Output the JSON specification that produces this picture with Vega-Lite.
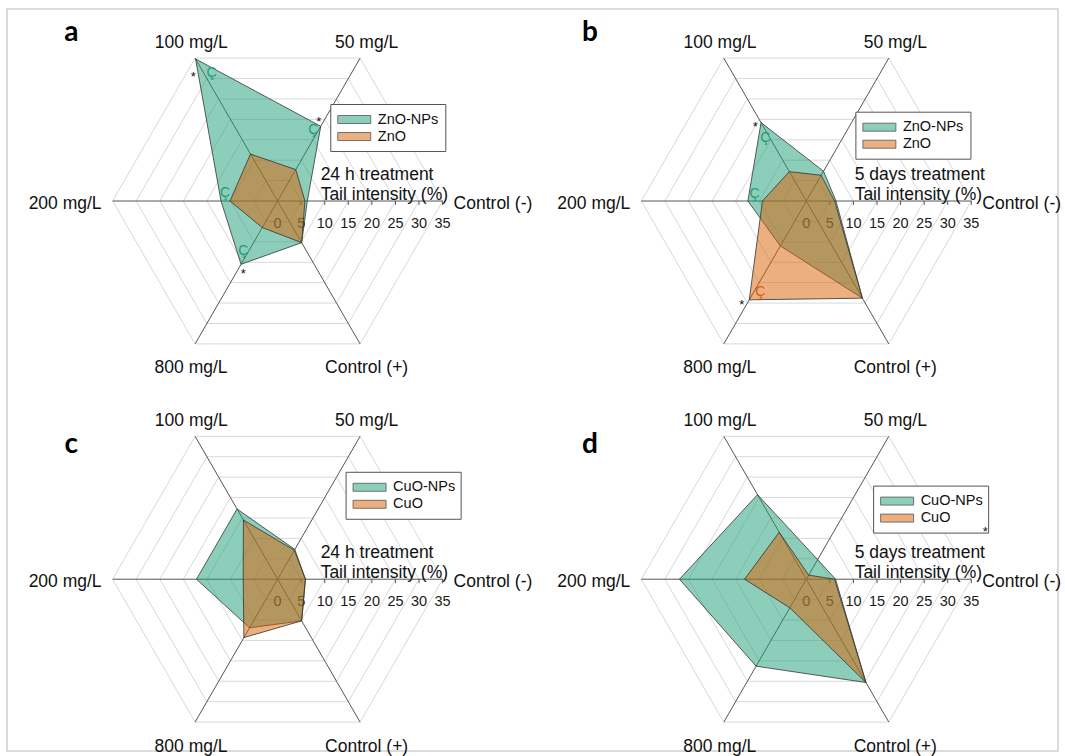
{
  "$schema": "https://vega.github.io/schema/vega-lite/v6.json",
  "width": 1051,
  "height": 742,
  "padding": {"left": 7, "top": 9, "right": 7, "bottom": 5},
  "autosize": {"type": "none"},
  "background": "white",
  "config": {"view": {"stroke": "#cfcfcf", "strokeWidth": 1.5}, "font": "Liberation Sans", "text": {"font": "Liberation Sans"}},
  "datasets": {
    "axes": [
      {"axis": "Control (-)", "angle": 0, "idx": 0},
      {"axis": "50 mg/L", "angle": 60, "idx": 1},
      {"axis": "100 mg/L", "angle": 120, "idx": 2},
      {"axis": "200 mg/L", "angle": 180, "idx": 3},
      {"axis": "800 mg/L", "angle": 240, "idx": 4},
      {"axis": "Control (+)", "angle": 300, "idx": 5}
    ],
    "panels": [
      {"panel": "a", "col": 0, "row": 0, "time": "24 h treatment"},
      {"panel": "b", "col": 1, "row": 0, "time": "5 days treatment"},
      {"panel": "c", "col": 0, "row": 1, "time": "24 h treatment"},
      {"panel": "d", "col": 1, "row": 1, "time": "5 days treatment"}
    ],
    "grid": [
      {"ring": [5, 10, 15, 20, 25, 30, 35], "axis": ["Control (-)", "50 mg/L", "100 mg/L", "200 mg/L", "800 mg/L", "Control (+)"], "panel": ["a", "b", "c", "d"]}
    ],
    "ticks": [
      {"ring": [0, 5, 10, 15, 20, 25, 30, 35], "panel": ["a", "b", "c", "d"]}
    ],
    "spokes": [
      {"axis": ["Control (-)", "50 mg/L", "100 mg/L", "200 mg/L", "800 mg/L", "Control (+)"], "panel": ["a", "b", "c", "d"]}
    ],
    "points": [
      {"panel": "a", "series": "ZnO-NPs", "axis": "Control (-)", "value": 6.3},
      {"panel": "a", "series": "ZnO-NPs", "axis": "50 mg/L", "value": 18.3},
      {"panel": "a", "series": "ZnO-NPs", "axis": "100 mg/L", "value": 34.8},
      {"panel": "a", "series": "ZnO-NPs", "axis": "200 mg/L", "value": 12.0},
      {"panel": "a", "series": "ZnO-NPs", "axis": "800 mg/L", "value": 15.5},
      {"panel": "a", "series": "ZnO-NPs", "axis": "Control (+)", "value": 10.2},
      {"panel": "a", "series": "ZnO", "axis": "Control (-)", "value": 5.8},
      {"panel": "a", "series": "ZnO", "axis": "50 mg/L", "value": 7.7},
      {"panel": "a", "series": "ZnO", "axis": "100 mg/L", "value": 11.5},
      {"panel": "a", "series": "ZnO", "axis": "200 mg/L", "value": 10.1},
      {"panel": "a", "series": "ZnO", "axis": "800 mg/L", "value": 6.5},
      {"panel": "a", "series": "ZnO", "axis": "Control (+)", "value": 10.2},
      {"panel": "b", "series": "ZnO-NPs", "axis": "Control (-)", "value": 6.3},
      {"panel": "b", "series": "ZnO-NPs", "axis": "50 mg/L", "value": 7.3},
      {"panel": "b", "series": "ZnO-NPs", "axis": "100 mg/L", "value": 19.2},
      {"panel": "b", "series": "ZnO-NPs", "axis": "200 mg/L", "value": 12.4},
      {"panel": "b", "series": "ZnO-NPs", "axis": "800 mg/L", "value": 11.0},
      {"panel": "b", "series": "ZnO-NPs", "axis": "Control (+)", "value": 23.8},
      {"panel": "b", "series": "ZnO", "axis": "Control (-)", "value": 6.0},
      {"panel": "b", "series": "ZnO", "axis": "50 mg/L", "value": 6.3},
      {"panel": "b", "series": "ZnO", "axis": "100 mg/L", "value": 7.2},
      {"panel": "b", "series": "ZnO", "axis": "200 mg/L", "value": 9.3},
      {"panel": "b", "series": "ZnO", "axis": "800 mg/L", "value": 24.2},
      {"panel": "b", "series": "ZnO", "axis": "Control (+)", "value": 23.8},
      {"panel": "c", "series": "CuO-NPs", "axis": "Control (-)", "value": 5.9},
      {"panel": "c", "series": "CuO-NPs", "axis": "50 mg/L", "value": 7.3},
      {"panel": "c", "series": "CuO-NPs", "axis": "100 mg/L", "value": 17.2},
      {"panel": "c", "series": "CuO-NPs", "axis": "200 mg/L", "value": 17.2},
      {"panel": "c", "series": "CuO-NPs", "axis": "800 mg/L", "value": 11.9},
      {"panel": "c", "series": "CuO-NPs", "axis": "Control (+)", "value": 10.2},
      {"panel": "c", "series": "CuO", "axis": "Control (-)", "value": 5.9},
      {"panel": "c", "series": "CuO", "axis": "50 mg/L", "value": 7.1},
      {"panel": "c", "series": "CuO", "axis": "100 mg/L", "value": 14.5},
      {"panel": "c", "series": "CuO", "axis": "200 mg/L", "value": 7.3},
      {"panel": "c", "series": "CuO", "axis": "800 mg/L", "value": 14.3},
      {"panel": "c", "series": "CuO", "axis": "Control (+)", "value": 10.2},
      {"panel": "d", "series": "CuO-NPs", "axis": "Control (-)", "value": 6.2},
      {"panel": "d", "series": "CuO-NPs", "axis": "50 mg/L", "value": 4.8},
      {"panel": "d", "series": "CuO-NPs", "axis": "100 mg/L", "value": 20.7},
      {"panel": "d", "series": "CuO-NPs", "axis": "200 mg/L", "value": 26.9},
      {"panel": "d", "series": "CuO-NPs", "axis": "800 mg/L", "value": 21.3},
      {"panel": "d", "series": "CuO-NPs", "axis": "Control (+)", "value": 25.3},
      {"panel": "d", "series": "CuO", "axis": "Control (-)", "value": 6.0},
      {"panel": "d", "series": "CuO", "axis": "50 mg/L", "value": 1.0},
      {"panel": "d", "series": "CuO", "axis": "100 mg/L", "value": 11.5},
      {"panel": "d", "series": "CuO", "axis": "200 mg/L", "value": 13.1},
      {"panel": "d", "series": "CuO", "axis": "800 mg/L", "value": 7.0},
      {"panel": "d", "series": "CuO", "axis": "Control (+)", "value": 25.3}
    ],
    "notes": [
      {"panel": "a", "series": "ZnO-NPs", "sym": "*", "r": 32.46, "angle": 123.43},
      {"panel": "a", "series": "ZnO-NPs", "sym": "Ç", "r": 30.61, "angle": 117.22},
      {"panel": "a", "series": "ZnO-NPs", "sym": "*", "r": 19.7, "angle": 63.6},
      {"panel": "a", "series": "ZnO-NPs", "sym": "Ç", "r": 16.8, "angle": 63.2},
      {"panel": "a", "series": "ZnO-NPs", "sym": "Ç", "r": 11.30, "angle": 171.04},
      {"panel": "a", "series": "ZnO-NPs", "sym": "Ç", "r": 12.87, "angle": 235.54},
      {"panel": "a", "series": "ZnO-NPs", "sym": "*", "r": 16.40, "angle": 243.66},
      {"panel": "b", "series": "ZnO-NPs", "sym": "*", "r": 19.77, "angle": 123.18},
      {"panel": "b", "series": "ZnO-NPs", "sym": "Ç", "r": 15.89, "angle": 123.19},
      {"panel": "b", "series": "ZnO-NPs", "sym": "Ç", "r": 11.07, "angle": 172.32},
      {"panel": "b", "series": "ZnO", "sym": "Ç", "r": 21.69, "angle": 243.26},
      {"panel": "b", "series": "ZnO", "sym": "*", "r": 25.18, "angle": 237.14},
      {"panel": "d", "series": "CuO", "sym": "*", "r": 39.50, "angle": 16.02}
    ]
  },
  "encoding": {
    "x": {"field": "px", "type": "quantitative", "scale": {"domain": [-57.40, 165.54], "nice": false, "zero": false}, "axis": null},
    "y": {"field": "py", "type": "quantitative", "scale": {"domain": [-116.66, 40.73], "nice": false, "zero": false}, "axis": null}
  },
  "layer": [
    {
      "data": {"name": "grid"},
      "transform": [
        {"flatten": ["ring"]},
        {"flatten": ["axis"]},
        {"flatten": ["panel"]},
        {"lookup": "axis", "from": {"data": {"name": "axes"}, "key": "axis", "fields": ["angle", "idx"]}},
        {"lookup": "panel", "from": {"data": {"name": "panels"}, "key": "panel", "fields": ["col", "row"]}},
        {"calculate": "datum.col*112.15 + datum.ring*cos(datum.angle*PI/180)", "as": "px"},
        {"calculate": "-datum.row*80.22 + datum.ring*sin(datum.angle*PI/180)", "as": "py"}
      ],
      "mark": {"type": "line", "interpolate": "linear-closed", "stroke": "#d9d9d9", "strokeWidth": 1},
      "encoding": {
        "order": {"field": "idx", "type": "quantitative"},
        "detail": [{"field": "panel"}, {"field": "ring"}]
      }
    },
    {
      "data": {"name": "ticks"},
      "transform": [
        {"flatten": ["ring"]},
        {"flatten": ["panel"]},
        {"lookup": "panel", "from": {"data": {"name": "panels"}, "key": "panel", "fields": ["col", "row"]}},
        {"calculate": "datum.col*112.15 + datum.ring", "as": "px"},
        {"calculate": "-datum.row*80.22", "as": "py"},
        {"calculate": "datum.py - 0.85", "as": "qy"}
      ],
      "layer": [
        {
          "transform": [{"filter": "datum.ring > 0"}],
          "mark": {"type": "rule", "stroke": "#595959", "strokeWidth": 1},
          "encoding": {"y2": {"field": "qy"}}
        },
        {
          "mark": {"type": "text", "fontSize": 14.5, "baseline": "alphabetic", "align": "center", "dy": 27, "color": "#1a1a1a"},
          "encoding": {"text": {"field": "ring", "type": "quantitative"}}
        }
      ]
    },
    {
      "data": {"name": "spokes"},
      "transform": [
        {"flatten": ["axis"]},
        {"flatten": ["panel"]},
        {"lookup": "axis", "from": {"data": {"name": "axes"}, "key": "axis", "fields": ["angle", "idx"]}},
        {"lookup": "panel", "from": {"data": {"name": "panels"}, "key": "panel", "fields": ["col", "row"]}},
        {"calculate": "datum.col*112.15", "as": "qx"},
        {"calculate": "-datum.row*80.22", "as": "qy"},
        {"calculate": "datum.qx + 35*cos(datum.angle*PI/180)", "as": "px"},
        {"calculate": "datum.qy + 35*sin(datum.angle*PI/180)", "as": "py"}
      ],
      "layer": [
        {
          "mark": {"type": "rule", "stroke": "#555555", "strokeWidth": 1},
          "encoding": {"x2": {"field": "qx"}, "y2": {"field": "qy"}}
        },
        {
          "transform": [
            {"filter": "datum.angle == 60 || datum.angle == 120"},
            {"calculate": "datum.px + (datum.angle == 60 ? 1.38 : -0.8)", "as": "px"}
          ],
          "mark": {"type": "text", "fontSize": 17.5, "baseline": "alphabetic", "align": "center", "dy": -10, "color": "#111111"},
          "encoding": {"text": {"field": "axis"}}
        },
        {
          "transform": [
            {"filter": "datum.angle == 240 || datum.angle == 300"},
            {"calculate": "datum.px + (datum.angle == 300 ? 1.38 : -0.85)", "as": "px"}
          ],
          "mark": {"type": "text", "fontSize": 17.5, "baseline": "alphabetic", "align": "center", "dy": 29.5, "color": "#111111"},
          "encoding": {"text": {"field": "axis"}}
        },
        {
          "transform": [{"filter": "datum.angle == 180"}],
          "mark": {"type": "text", "fontSize": 17.5, "baseline": "alphabetic", "align": "right", "dx": -11, "dy": 8, "color": "#111111"},
          "encoding": {"text": {"field": "axis"}}
        },
        {
          "transform": [{"filter": "datum.angle == 0"}],
          "mark": {"type": "text", "fontSize": 17.5, "baseline": "alphabetic", "align": "left", "dx": 11, "dy": 8, "color": "#111111"},
          "encoding": {"text": {"field": "axis"}}
        }
      ]
    },
    {
      "data": {"name": "points"},
      "transform": [
        {"lookup": "axis", "from": {"data": {"name": "axes"}, "key": "axis", "fields": ["angle", "idx"]}},
        {"lookup": "panel", "from": {"data": {"name": "panels"}, "key": "panel", "fields": ["col", "row"]}},
        {"calculate": "datum.col*112.15 + datum.value*cos(datum.angle*PI/180)", "as": "px"},
        {"calculate": "-datum.row*80.22 + datum.value*sin(datum.angle*PI/180)", "as": "py"}
      ],
      "layer": [
        {
          "transform": [{"filter": "indexof(datum.series, 'NPs') >= 0"}],
          "mark": {"type": "line", "interpolate": "linear-closed", "fill": "#1b9e77", "fillOpacity": 0.5, "stroke": "#333333", "strokeWidth": 0.8},
          "encoding": {"order": {"field": "idx", "type": "quantitative"}, "detail": {"field": "panel"}}
        },
        {
          "transform": [{"filter": "indexof(datum.series, 'NPs') < 0"}],
          "mark": {"type": "line", "interpolate": "linear-closed", "fill": "#d95f02", "fillOpacity": 0.5, "stroke": "#333333", "strokeWidth": 0.8},
          "encoding": {"order": {"field": "idx", "type": "quantitative"}, "detail": {"field": "panel"}}
        }
      ]
    },
    {
      "data": {"name": "panels"},
      "transform": [
        {"calculate": "datum.col*112.15", "as": "cx"},
        {"calculate": "-datum.row*80.22", "as": "cy"}
      ],
      "layer": [
        {
          "transform": [
            {"calculate": "datum.cx + (datum.col == 0 ? 9.13 : 10.25)", "as": "px"},
            {"calculate": "datum.cy", "as": "py"}
          ],
          "mark": {"type": "text", "fontSize": 17.5, "baseline": "alphabetic", "align": "left", "dy": -21.5, "color": "#111111"},
          "encoding": {"text": {"field": "time"}}
        },
        {
          "transform": [
            {"calculate": "datum.cx + (datum.col == 0 ? 9.13 : 10.25)", "as": "px"},
            {"calculate": "datum.cy", "as": "py"}
          ],
          "mark": {"type": "text", "fontSize": 17.5, "baseline": "alphabetic", "align": "left", "dy": -1.5, "color": "#111111"},
          "encoding": {"text": {"value": "Tail intensity (%)"}}
        },
        {
          "transform": [
            {"calculate": "datum.panel == 'a' ? 11.28 : datum.panel == 'b' ? 10.52 : datum.panel == 'c' ? 14.53 : 14.28", "as": "lgx"},
            {"calculate": "datum.panel == 'a' ? 20.47 : datum.panel == 'b' ? 18.84 : datum.panel == 'c' ? 22.68 : 19.75", "as": "lgy"},
            {"calculate": "datum.cx + datum.lgx", "as": "px"},
            {"calculate": "datum.px + 24.4", "as": "qx"},
            {"calculate": "datum.cy + datum.lgy", "as": "py"},
            {"calculate": "datum.py - 9.97", "as": "qy"}
          ],
          "mark": {"type": "rect", "fill": "white", "stroke": "#555555", "strokeWidth": 1},
          "encoding": {"x2": {"field": "qx"}, "y2": {"field": "qy"}}
        },
        {
          "transform": [
            {"calculate": "datum.cx + (datum.col == 0 ? -43.76 : -45.92)", "as": "px"},
            {"calculate": "datum.cy + (datum.row == 0 ? 33.84 : 26.77)", "as": "py"}
          ],
          "mark": {"type": "text", "font": "Lato", "fontWeight": "bold", "fontSize": 28, "baseline": "alphabetic", "align": "center", "color": "#000000"},
          "encoding": {"text": {"field": "panel"}}
        }
      ]
    },
    {
      "data": {"name": "points"},
      "transform": [
        {"filter": "datum.axis == 'Control (-)'"},
        {"lookup": "panel", "from": {"data": {"name": "panels"}, "key": "panel", "fields": ["col", "row"]}},
        {"calculate": "datum.panel == 'a' ? 11.28 : datum.panel == 'b' ? 10.52 : datum.panel == 'c' ? 14.53 : 14.28", "as": "lgx"},
        {"calculate": "datum.panel == 'a' ? 20.47 : datum.panel == 'b' ? 18.84 : datum.panel == 'c' ? 22.68 : 19.75", "as": "lgy"},
        {"calculate": "-datum.row*80.22 + datum.lgy - (indexof(datum.series, 'NPs') >= 0 ? 3.18 : 6.79)", "as": "yc"}
      ],
      "layer": [
        {
          "transform": [
            {"calculate": "datum.col*112.15 + datum.lgx + 1.48", "as": "px"},
            {"calculate": "datum.px + 7.0", "as": "qx"},
            {"calculate": "datum.yc + 0.85", "as": "py"},
            {"calculate": "datum.yc - 0.85", "as": "qy"}
          ],
          "mark": {"type": "rect", "fillOpacity": 0.5, "stroke": "#555555", "strokeWidth": 0.8},
          "encoding": {
            "x2": {"field": "qx"},
            "y2": {"field": "qy"},
            "color": {"field": "series", "type": "nominal", "scale": {"domain": ["ZnO-NPs", "ZnO", "CuO-NPs", "CuO"], "range": ["#1b9e77", "#d95f02", "#1b9e77", "#d95f02"]}, "legend": null}
          }
        },
        {
          "transform": [
            {"calculate": "datum.col*112.15 + datum.lgx + 9.97", "as": "px"},
            {"calculate": "datum.yc", "as": "py"}
          ],
          "mark": {"type": "text", "fontSize": 14.5, "baseline": "middle", "align": "left", "color": "#111111"},
          "encoding": {"text": {"field": "series"}}
        }
      ]
    },
    {
      "data": {"name": "notes"},
      "transform": [
        {"lookup": "panel", "from": {"data": {"name": "panels"}, "key": "panel", "fields": ["col", "row"]}},
        {"calculate": "datum.col*112.15 + datum.r*cos(datum.angle*PI/180)", "as": "px"},
        {"calculate": "-datum.row*80.22 + datum.r*sin(datum.angle*PI/180)", "as": "py"}
      ],
      "layer": [
        {
          "transform": [{"filter": "datum.sym == 'Ç'"}],
          "mark": {"type": "text", "fontSize": 14, "baseline": "middle", "align": "center"},
          "encoding": {
            "text": {"field": "sym"},
            "color": {"field": "series", "type": "nominal", "scale": {"domain": ["ZnO-NPs", "ZnO", "CuO-NPs", "CuO"], "range": ["#1b9e77", "#d95f02", "#1b9e77", "#d95f02"]}, "legend": null}
          }
        },
        {
          "transform": [{"filter": "datum.sym == '*'"}],
          "mark": {"type": "text", "fontSize": 13, "baseline": "middle", "align": "center", "dy": 4, "color": "#111111"},
          "encoding": {"text": {"field": "sym"}}
        }
      ]
    }
  ]
}
